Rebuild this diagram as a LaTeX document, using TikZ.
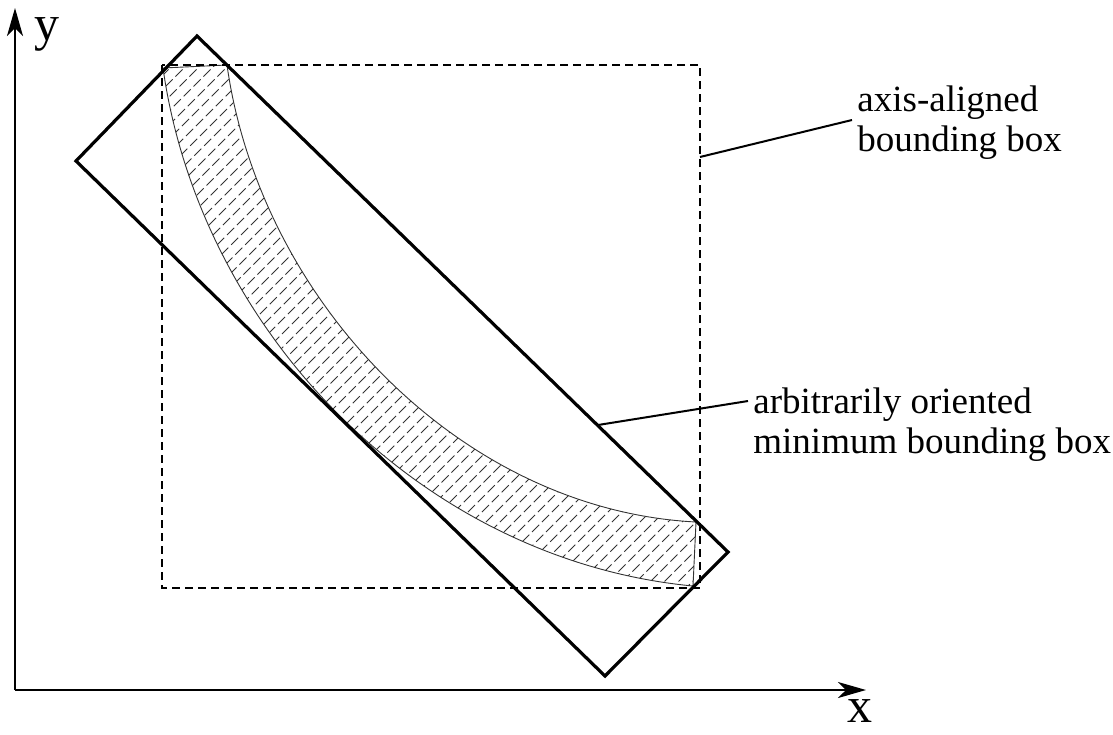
\documentclass[tikz,border=0pt]{standalone}
\usepackage{fontspec}
\setmainfont{Liberation Serif}
\usetikzlibrary{arrows.meta,calc,positioning}

\begin{document}
\begin{tikzpicture}[x=0.5pt,y=-0.5pt,
  axis/.style={line width=1pt, -{Stealth[length=14pt,width=8pt,inset=4pt]}},
  obb/.style={line width=1.6pt, line join=miter},
  aabb/.style={line width=0.8pt, dash pattern=on 4pt off 2.5pt},
  band/.style={draw=black!80, line width=0.45pt},
  hatch/.style={black!80, line width=0.5pt, dash pattern=on 5pt off 2pt},
  leader/.style={line width=1pt},
  note/.style={align=left, inner sep=2.5pt, font=\fontsize{18.5}{20}\selectfont},
  axlabel/.style={inner sep=0pt, font=\fontsize{25}{25}\selectfont}
]
\useasboundingbox (0,0) rectangle (1113,734);

% axes
\coordinate (o) at (15,690);
\coordinate (ytip) at (15,8);
\coordinate (xtip) at (866,690);
\draw[axis] (o) -- (ytip);
\draw[axis] (o) -- (xtip);
\node[axlabel, anchor=base] (ylbl) at (47,40) {y};
\node[axlabel, anchor=base] (xlbl) at (860,722) {x};

% hatched band
\begin{scope}
  \clip (163,68) -- (227,65) .. controls (260,300) and (460,510) .. (696,522)
    -- (693,586) .. controls (420,560) and (200,330) .. (163,68) -- cycle;
  \foreach \c in {-720,-706,...,720}
    \draw[hatch] (\c,720) -- ++(720,-720);
\end{scope}
\draw[band] (163,68) -- (227,65) .. controls (260,300) and (460,510) .. (696,522)
  -- (693,586) .. controls (420,560) and (200,330) .. (163,68) -- cycle;

% boxes
\draw[aabb] (162,65) rectangle (700,588);
\draw[obb] (197,36) -- (728,552) -- (605,676) -- (76,161) -- cycle;

% labels
\coordinate (aabbpt) at (700,157);
\node[note, anchor=west] (aabbtxt) at (852,123) {axis-aligned\\bounding box};
\draw[leader] (aabbpt) -- ($(aabbtxt.west)+(0,-3)$);

\coordinate (obbpt) at (598,425);
\node[note, anchor=north west] (obbtxt) at (748,382) {arbitrarily oriented\\minimum bounding box};
\draw[leader] (obbpt) -- ($(obbtxt.north west)+(0,19)$);
\end{tikzpicture}
\end{document}
